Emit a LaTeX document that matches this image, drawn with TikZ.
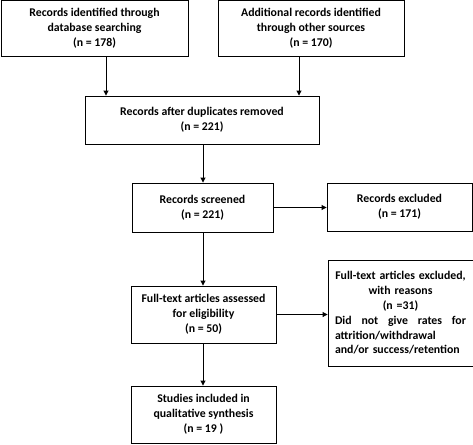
\documentclass[tikz,border=0pt]{standalone}
\usepackage{fontspec}
\setmainfont{Carlito}
\usetikzlibrary{arrows.meta}
\begin{document}
\begin{tikzpicture}[x=1pt,y=-1pt,
  box/.style={draw, line width=0.9pt, align=center, inner sep=0pt,
    font=\fontsize{11.8}{14.8}\selectfont\bfseries},
  arr/.style={-{Triangle[length=5pt,width=5pt]}, line width=0.9pt}]
\useasboundingbox (0,0) rectangle (473,444);
\coordinate (cx) at (203,0);
\node[box, minimum width=187pt, minimum height=56pt] (b1) at (94.5,28.5)
  {Records identified through\\database searching\\(n = 178)};
\node[box, minimum width=186pt, minimum height=56pt] (b2) at (311,28.5)
  {Additional records identified\\through other sources\\(n = 170)};
\node[box, minimum width=234pt, minimum height=48pt] (b3) at (202,120)
  {Records after duplicates removed\\(n = 221)};
\node[box, minimum width=141pt, minimum height=49pt] (b4) at (202.5,207.5)
  {Records screened\\(n = 221)};
\node[box, minimum width=145pt, minimum height=48pt] (b4r) at (399.5,207)
  {Records excluded\\(n = 171)};
\node[box, minimum width=145pt, minimum height=57pt] (b5) at (203.5,314.5)
  {Full-text articles assessed\\for eligibility\\(n = 50)};
\node[box, minimum width=145pt, minimum height=106pt, text width=131pt, inner xsep=7pt] (b5r) at (400.5,313)
  {\makebox[131pt][c]{Full-text articles excluded,}\\with reasons\\(n =31)\\
   \makebox[131pt][l]{Did\hfill not\hfill give\hfill rates\hfill for}\\
   \makebox[131pt][l]{attrition/withdrawal\hfill}\\
   \makebox[131pt][l]{and/or success/retention\hfill}};
\node[box, minimum width=145pt, minimum height=57pt] (b6) at (203.5,414.5)
  {Studies included in\\qualitative synthesis\\(n = 19 )};
\draw[arr] ([xshift=11.5pt]b1.south) -- ([xshift=11.5pt]b1.south |- b3.north);
\draw[arr] ([xshift=-12pt]b2.south) -- ([xshift=-12pt]b2.south |- b3.north);
\draw[arr] (b3.south -| cx) -- (b4.north -| cx);
\draw[arr] (b4.south -| cx) -- (b5.north -| cx);
\draw[arr] (b5.south -| cx) -- (b6.north -| cx);
\draw[arr] (b4.east) -- (b4.east -| b4r.west);
\draw[arr] (b5.east) -- (b5.east -| b5r.west);
\end{tikzpicture}
\end{document}
